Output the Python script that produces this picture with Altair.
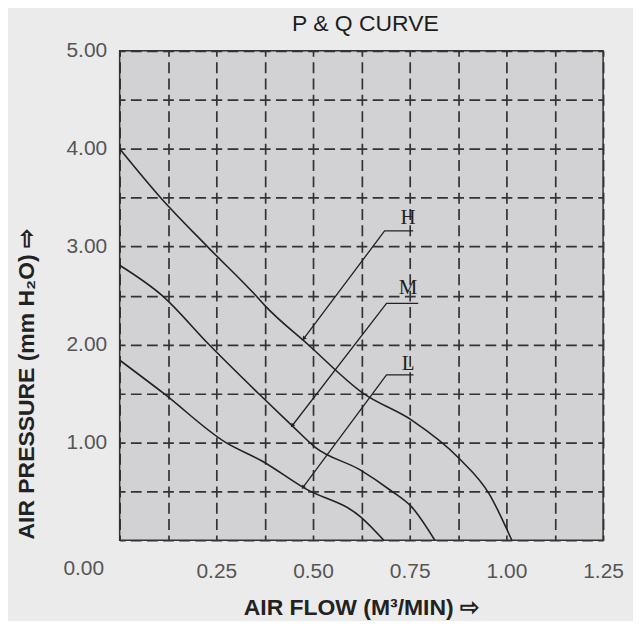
import altair as alt
import pandas as pd

# ---- data ----
H_X = [0.0, 0.106, 0.227, 0.352, 0.375, 0.487, 0.63, 0.755, 0.878, 0.955, 1.014]
H_Y = [4.0, 3.5, 3.0, 2.5, 2.4, 2.0, 1.5, 1.227, 0.835, 0.477, 0.0]

M_X = [0.0, 0.11, 0.231, 0.359, 0.449, 0.504, 0.623, 0.70, 0.755, 0.815]
M_Y = [2.81, 2.5, 2.0, 1.5, 1.159, 0.955, 0.716, 0.511, 0.341, 0.0]

L_X = [0.0, 0.114, 0.274, 0.368, 0.479, 0.623, 0.683]
L_Y = [1.84, 1.5, 1.0, 0.81, 0.53, 0.239, 0.0]

# leader lines: end of shelf, start of shelf, arrow tip
LEAD_H_X = [0.759, 0.685, 0.476]
LEAD_H_Y = [3.16, 3.16, 2.06]
LEAD_M_X = [0.772, 0.690, 0.446]
LEAD_M_Y = [2.42, 2.42, 1.17]
LEAD_L_X = [0.760, 0.690, 0.474]
LEAD_L_Y = [1.69, 1.69, 0.54]

LABELS = ["H", "M", "L"]
LABEL_X = [0.746, 0.746, 0.746]
LABEL_Y = [3.29, 2.575, 1.80]

X_TICKS = [0, 0.125, 0.25, 0.375, 0.5, 0.625, 0.75, 0.875, 1.0, 1.125, 1.25]
Y_TICKS = [0, 0.5, 1, 1.5, 2, 2.5, 3, 3.5, 4, 4.5, 5]

TITLE = "P & Q CURVE"
X_TITLE = "AIR FLOW (M³/MIN) ⇨"
Y_TITLE = "AIR PRESSURE (mm H₂O) ⇨"
ORIGIN_LABEL = "0.00"


def long(name, xs, ys):
    return pd.DataFrame({"series": name, "x": xs, "y": ys, "i": list(range(len(xs)))})


curves = pd.concat([long("H", H_X, H_Y), long("M", M_X, M_Y), long("L", L_X, L_Y)])
leaders = pd.concat([
    long("H", LEAD_H_X, LEAD_H_Y),
    long("M", LEAD_M_X, LEAD_M_Y),
    long("L", LEAD_L_X, LEAD_L_Y),
])
tips = leaders[leaders["i"] == 2]
labels = pd.DataFrame({"label": LABELS, "x": LABEL_X, "y": LABEL_Y})
origin = pd.DataFrame({"t": [ORIGIN_LABEL], "x": [0.0], "y": [0.0]})

FONT = "Liberation Sans"

x_axis = alt.Axis(
    values=X_TICKS,
    labelExpr="datum.value == 0 || round(datum.value * 8) % 2 == 1 ? '' : format(datum.value, '.2f')",
    title=X_TITLE,
    titleX=242, titleY=67, titleAlign="center", titleBaseline="middle",
    titleFont=FONT, titleFontSize=23, titleFontWeight="bold", titleColor="#222222",
    labelFont=FONT, labelFontSize=21, labelColor="#555555", labelPadding=20,
    labelFlush=False, labelOverlap=False,
    domain=False, ticks=False,
    grid=True, gridColor="#333333", gridWidth=1.7, gridOpacity=1,
    gridDash=[11, 5.37], gridDashOffset=5.5,
)
y_axis = alt.Axis(
    values=Y_TICKS,
    labelExpr="datum.value == 0 || round(datum.value * 2) % 2 == 1 ? '' : format(datum.value, '.2f')",
    title=Y_TITLE,
    titleAngle=270, titleX=-93, titleY=334, titleAlign="center", titleBaseline="middle",
    titleFont=FONT, titleFontSize=23, titleFontWeight="bold", titleColor="#222222",
    labelFont=FONT, labelFontSize=21, labelColor="#555555", labelPadding=13,
    labelFlush=False, labelOverlap=False,
    domain=False, ticks=False,
    grid=True, gridColor="#333333", gridWidth=1.7, gridOpacity=1,
    gridDash=[10.8, 5.37], gridDashOffset=5.4,
)

X = alt.X("x:Q", scale=alt.Scale(domain=[0, 1.25], nice=False, zero=False), axis=x_axis)
Y = alt.Y("y:Q", scale=alt.Scale(domain=[0, 5], nice=False, zero=False), axis=y_axis)

curve_layer = alt.Chart(curves).mark_line(
    color="#222222", strokeWidth=1.6, interpolate="monotone", clip=True
).encode(x=X, y=Y, detail="series:N", order="i:Q")

leader_layer = alt.Chart(leaders).mark_line(
    color="#222222", strokeWidth=1.3
).encode(x=X, y=Y, detail="series:N", order="i:Q")

tip_layer = alt.Chart(tips).mark_point(
    shape="triangle-up", filled=True, color="#222222", size=22, angle=217, opacity=1
).encode(x=X, y=Y)

label_layer = alt.Chart(labels).mark_text(
    font="Liberation Serif", fontSize=21, color="#222222", align="center", baseline="middle"
).encode(x=X, y=Y, text="label:N")

origin_layer = alt.Chart(origin).mark_text(
    font=FONT, fontSize=21, color="#555555", align="center", baseline="middle", dx=-36, dy=29
).encode(x=X, y=Y, text="t:N")

chart = alt.layer(
    curve_layer, leader_layer, tip_layer, label_layer, origin_layer
).properties(
    width=485,
    height=491,
    autosize=alt.AutoSizeParams(type="none"),
    padding={"left": 112, "top": 42, "right": 30, "bottom": 80},
    background="#ebebeb",
    title=alt.TitleParams(
        TITLE, font=FONT, fontSize=23, fontWeight="normal", color="#1e1e1e",
        anchor="middle", offset=4, dx=4,
    ),
).configure_view(
    fill="#d2d2d5", stroke="#333333", strokeWidth=1.5
)

chart.save("out.html", embed_options={"renderer": "svg", "actions": False})
